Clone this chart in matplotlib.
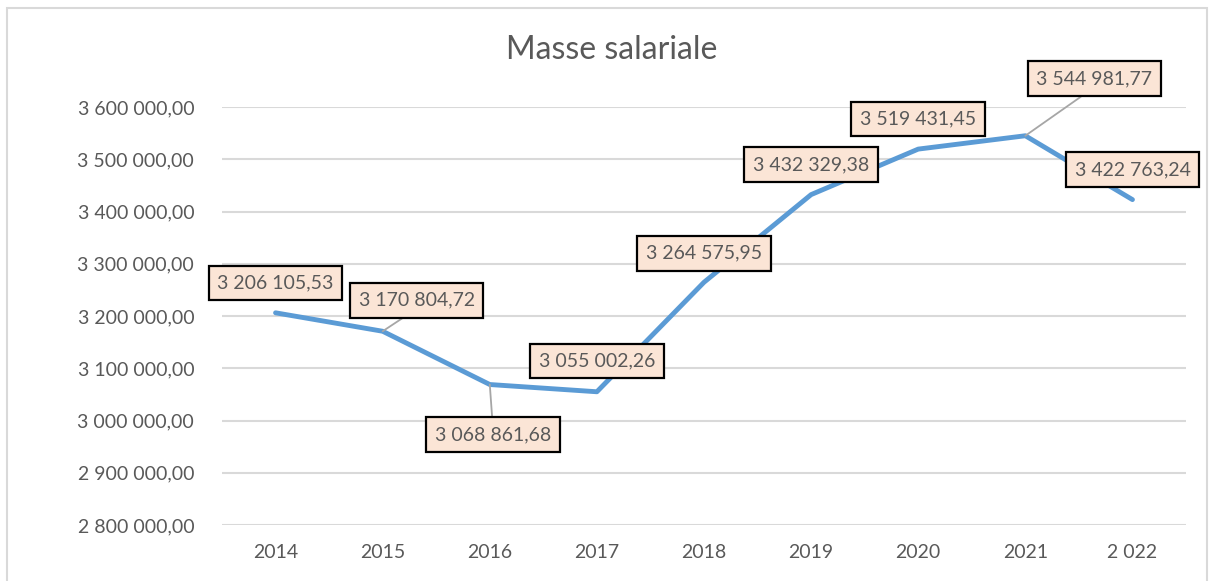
import matplotlib.pyplot as plt
from matplotlib.patches import Rectangle
from matplotlib.ticker import FuncFormatter

# données
annees = ['2014', '2015', '2016', '2017', '2018', '2019', '2020', '2021', '2 022']
masse = [3206105.53, 3170804.72, 3068861.68, 3055002.26, 3264575.95,
         3432329.38, 3519431.45, 3544981.77, 3422763.24]
etiquettes = ['3 206 105,53', '3 170 804,72', '3 068 861,68', '3 055 002,26', '3 264 575,95',
              '3 432 329,38', '3 519 431,45', '3 544 981,77', '3 422 763,24']

# décalage des étiquettes (pixels) et lignes de repère
decalages = [(0, 30), (34, 31), (3, -50), (0, 31), (0, 29), (0, 30), (0, 30), (69, 57), (0, 30)]
repere = [False, True, True, False, False, False, False, True, False]

plt.rcParams['font.family'] = ['Lato', 'DejaVu Sans']
gris = '#595959'

fig = plt.figure(figsize=(12.13, 5.81), dpi=100)
fig.patches.append(Rectangle((7 / 1213, -0.05), 1200 / 1213, 1 - 8 / 581 + 0.05,
                             transform=fig.transFigure, fill=False,
                             edgecolor='#D9D9D9', linewidth=1.5))
ax = fig.add_axes([222 / 1213, 1 - 525 / 581, 964 / 1213, 418 / 581])

x = list(range(len(annees)))
ax.plot(x, masse, color='#5B9BD5', linewidth=3.5, solid_capstyle='round',
        solid_joinstyle='round', zorder=3)

for i, (val, txt) in enumerate(zip(masse, etiquettes)):
    dx, dy = decalages[i]
    props = None
    if repere[i]:
        props = dict(arrowstyle='-', color='#A6A6A6', lw=1.3, shrinkA=0, shrinkB=0,
                     relpos=(0.5, 0) if dy > 0 else (0.5, 1))
    ax.annotate(txt, (i, val), xytext=(dx, dy), textcoords='offset pixels',
                ha='center', va='center', fontsize=14, color=gris, zorder=5,
                bbox=dict(boxstyle='square,pad=0.45', facecolor='#FBE5D6',
                          edgecolor='black', linewidth=1.6),
                arrowprops=props, annotation_clip=False)

ax.set_xlim(-0.5, len(annees) - 0.5)
ax.set_ylim(2800000, 3600000)
ax.set_yticks([2800000 + 100000 * k for k in range(9)])
ax.yaxis.set_major_formatter(FuncFormatter(
    lambda v, p: '{:,.2f}'.format(v).replace(',', ' ').replace('.', ',')))
ax.set_xticks(x)
ax.set_xticklabels(annees)
ax.tick_params(length=0, labelsize=14, colors=gris)
ax.tick_params(axis='y', pad=20)
ax.tick_params(axis='x', pad=14)
ax.grid(axis='y', color='#D9D9D9', linewidth=1.5)
ax.set_axisbelow(True)
for s in ax.spines.values():
    s.set_visible(False)

fig.text(612 / 1213, 1 - 50 / 581, 'Masse salariale', ha='center', va='center',
         fontsize=23, color=gris)

fig.savefig('out.png', dpi=100)
